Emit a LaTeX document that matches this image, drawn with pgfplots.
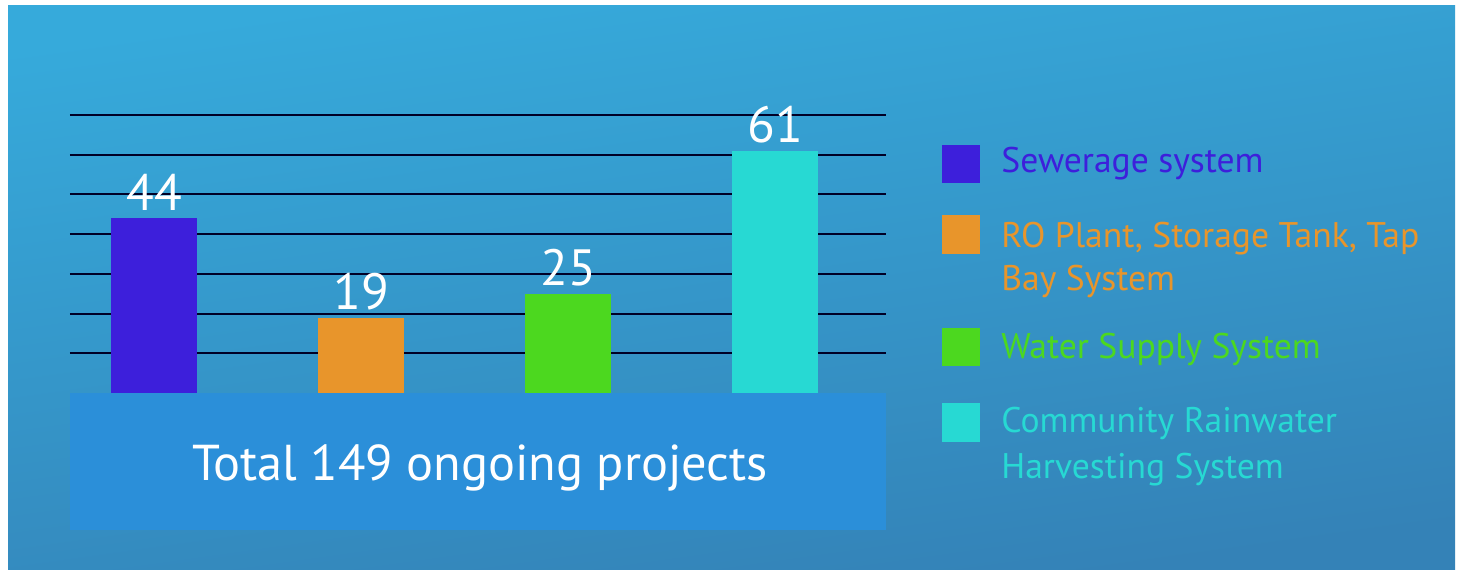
\documentclass[border=0pt]{standalone}
\usepackage{fontspec}
\setmainfont{PT Sans}
\usepackage{pgfplots}
\pgfplotsset{compat=1.18}

\definecolor{cblue}{HTML}{3D1FDB}
\definecolor{corange}{HTML}{E8952B}
\definecolor{cgreen}{HTML}{4CD81F}
\definecolor{ccyan}{HTML}{27D9D3}
\definecolor{bgtop}{HTML}{36AADB}
\definecolor{bgbot}{HTML}{3482B7}
\definecolor{boxblue}{HTML}{2B8FD9}

\begin{document}
% 1 unit = 1 pixel of the reference, y measured from the bottom
\begin{tikzpicture}[x=0.5pt,y=0.5pt]
  \path[use as bounding box,fill=white] (0,0) rectangle (1462,569);
  \shade[top color=bgtop,bottom color=bgbot,shading angle=8] (8,0) rectangle (1455,563);
  \fill[boxblue] (70,39) rectangle (886,176);
  \node[text=white,font=\fontsize{25.2}{30}\selectfont,anchor=base] at (480,89) {Total 149 ongoing projects};

  \begin{axis}[
      at={(35pt,88pt)}, anchor=south west,
      width=408pt, height=139pt, scale only axis,
      ybar, bar width=43pt,
      xmin=-0.406, xmax=3.536,
      ymin=0, ymax=70,
      xtick=\empty,
      ytick={10,20,...,70}, yticklabels={},
      ymajorgrids,
      grid style={black!85!blue,line width=1pt},
      axis line style={draw=none},
      major tick style={draw=none},
      clip=false,
      /pgf/number format/assume math mode=true,
      every axis plot/.append style={bar shift=0pt,draw=none},
      nodes near coords,
      every node near coord/.append style={text=white,font=\fontsize{25.5}{30}\selectfont,anchor=base,inner sep=0pt,yshift=4pt},
    ]
    \addplot[fill=cblue] coordinates {(0,44)};
    \addplot[fill=corange] coordinates {(1,19)};
    \addplot[fill=cgreen] coordinates {(2,25)};
    \addplot[fill=ccyan] coordinates {(3,61)};
  \end{axis}

  % legend
  \fill[cblue] (942,386) rectangle (980,424);
  \fill[corange] (942,315) rectangle (980,354);
  \fill[cgreen] (942,203) rectangle (980,241);
  \fill[ccyan] (942,127) rectangle (980,166);
  \begin{scope}[every node/.style={anchor=base west,inner sep=0pt,font=\fontsize{17.8}{21.5}\selectfont,align=left}]
    \node[text=cblue] at (1001,397) {Sewerage system};
    \node[text=corange] at (1001,322) {RO Plant, Storage Tank, Tap};
    \node[text=corange] at (1001,279) {Bay System};
    \node[text=cgreen] at (1001,211) {Water Supply System};
    \node[text=ccyan] at (1001,137) {Community Rainwater};
    \node[text=ccyan] at (1001,91) {Harvesting System};
  \end{scope}
\end{tikzpicture}
\end{document}
